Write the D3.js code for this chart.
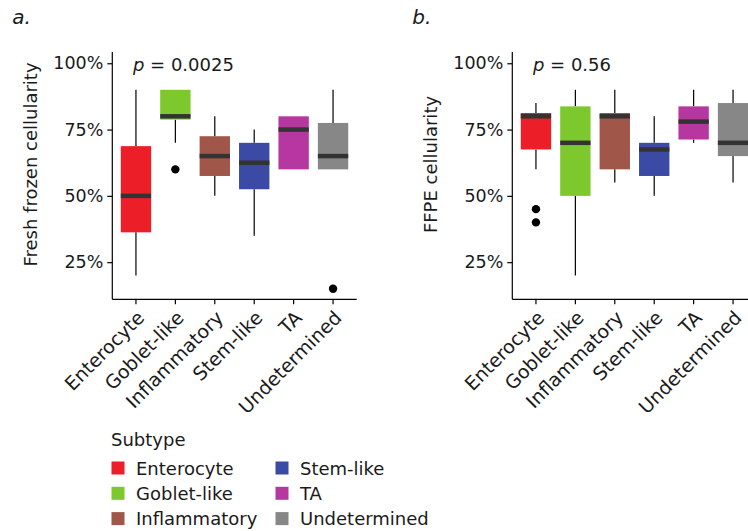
<!DOCTYPE html>
<html>
<head>
<meta charset="utf-8">
<script src="https://cdn.jsdelivr.net/npm/d3@7"></script>
<style>
  html, body { margin: 0; padding: 0; background: #fff; }
  svg { display: block; }
  text { font-family: "DejaVu Sans", sans-serif; fill: #1a1a1a; }
</style>
</head>
<body>
<svg id="chart" width="748" height="531"></svg>
<script>
// Subtypes and their fill colours
const subtypes = ["Enterocyte", "Goblet-like", "Inflammatory", "Stem-like", "TA", "Undetermined"];
const subtypeColors = ["#EC1F28", "#7DC82C", "#A0574A", "#3A4AA5", "#B5379F", "#878787"];

// Fresh frozen cellularity (%) — box summaries per subtype
const ffLowerWhisker = [20, 70, 50, 35, 60, 60];
const ffQ1           = [36.25, 78.75, 57.5, 52.5, 60, 60];
const ffMedian       = [50, 80, 65, 62.5, 75, 65];
const ffQ3           = [68.75, 90, 72.5, 70, 80, 77.5];
const ffUpperWhisker = [90, 90, 80, 75, 80, 90];
const ffOutliers     = [[], [60], [], [], [], [15]];
const ffPLabel = "0.0025";

// FFPE cellularity (%) — box summaries per subtype
const ffpeLowerWhisker = [60, 20, 55, 50, 70, 55];
const ffpeQ1           = [67.5, 50, 60, 57.5, 71.25, 65];
const ffpeMedian       = [80, 70, 80, 67.5, 78, 70];
const ffpeQ3           = [81.25, 83.75, 81.25, 70, 83.75, 85];
const ffpeUpperWhisker = [85, 90, 90, 80, 90, 90];
const ffpeOutliers     = [[45, 40], [], [], [], [], []];
const ffpePLabel = "0.56";

// Y axis ticks
const yTicks = [25, 50, 75, 100];
const yDomain = [11, 104.25];

const svg = d3.select("#chart");

function buildRows(lo, q1, med, q3, hi, out) {
  return subtypes.map((s, i) => ({
    subtype: s, color: subtypeColors[i],
    lo: lo[i], q1: q1[i], med: med[i], q3: q3[i], hi: hi[i], out: out[i]
  }));
}

function drawPanel(opts) {
  const { left, top, bottom, width, rows, tag, yTitle, pLabel } = opts;
  const g = svg.append("g");

  const x = d3.scaleBand().domain(subtypes)
    .range([left, left + width]).paddingInner(0).paddingOuter(0.1);
  const y = d3.scaleLinear().domain(yDomain).range([bottom, top]);
  const bw = x.bandwidth() * 0.77;
  const cx = d => x(d.subtype) + x.bandwidth() / 2;

  // panel tag
  g.append("text").attr("x", left - 100).attr("y", 24)
    .attr("font-size", 20).attr("font-style", "italic").text(tag);

  // y title
  g.append("text")
    .attr("transform", `translate(${left - 82},${164.5}) rotate(-90)`)
    .attr("text-anchor", "middle").attr("dominant-baseline", "central")
    .attr("font-size", 18).text(yTitle);

  // whiskers
  const box = g.selectAll("g.box").data(rows).join("g").attr("class", "box");
  box.append("line")
    .attr("x1", cx).attr("x2", cx)
    .attr("y1", d => y(d.hi)).attr("y2", d => y(d.q3))
    .attr("stroke", "#000").attr("stroke-width", 1.2);
  box.append("line")
    .attr("x1", cx).attr("x2", cx)
    .attr("y1", d => y(d.q1)).attr("y2", d => y(d.lo))
    .attr("stroke", "#000").attr("stroke-width", 1.2);
  // boxes
  box.append("rect")
    .attr("x", d => cx(d) - bw / 2).attr("width", bw)
    .attr("y", d => y(d.q3)).attr("height", d => Math.max(0, y(d.q1) - y(d.q3)))
    .attr("fill", d => d.color);
  // medians
  box.append("line")
    .attr("x1", d => cx(d) - bw / 2).attr("x2", d => cx(d) + bw / 2)
    .attr("y1", d => y(d.med)).attr("y2", d => y(d.med))
    .attr("stroke", "#333333").attr("stroke-width", 4.5);
  // outliers
  box.selectAll("circle").data(d => d.out.map(v => ({ v, d }))).join("circle")
    .attr("cx", o => cx(o.d)).attr("cy", o => y(o.v)).attr("r", 4.2)
    .attr("fill", "#000");

  // axes
  const yAxis = d3.axisLeft(y).tickValues(yTicks).tickFormat(v => v + "%")
    .tickSize(5).tickPadding(4);
  const ya = g.append("g").attr("transform", `translate(${left},0)`).call(yAxis);
  ya.select(".domain").remove();
  ya.append("line").attr("x1", 0).attr("x2", 0).attr("y1", top).attr("y2", bottom)
    .attr("stroke", "#000").attr("stroke-width", 1.2);
  ya.selectAll(".tick line").attr("stroke", "#000").attr("stroke-width", 1.2);
  ya.selectAll(".tick text").attr("font-size", 17.5).attr("fill", "#1a1a1a")
    .attr("font-family", "DejaVu Sans");

  const xAxis = d3.axisBottom(x).tickSize(5).tickPadding(0);
  const xa = g.append("g").attr("transform", `translate(0,${bottom})`).call(xAxis);
  xa.select(".domain").remove();
  xa.append("line").attr("x1", left).attr("x2", left + width).attr("y1", 0).attr("y2", 0)
    .attr("stroke", "#000").attr("stroke-width", 1.2);
  xa.selectAll(".tick line").attr("stroke", "#000").attr("stroke-width", 1.2);
  xa.selectAll(".tick text")
    .attr("font-size", 19).attr("fill", "#1a1a1a").attr("font-family", "DejaVu Sans")
    .attr("text-anchor", "end").attr("dy", null).attr("y", null)
    .attr("transform", "translate(0,10) rotate(-45)")
    .attr("dy", "0.72em");

  // p-value label
  const pt = g.append("text").attr("x", x(subtypes[0]) + x.bandwidth() / 2 - 3)
    .attr("y", y(100) + 1).attr("dominant-baseline", "central").attr("font-size", 18);
  pt.append("tspan").attr("font-style", "italic").text("p");
  pt.append("tspan").text(" = " + pLabel);
}

drawPanel({
  left: 112.3, top: 52, bottom: 299.3, width: 244.4,
  rows: buildRows(ffLowerWhisker, ffQ1, ffMedian, ffQ3, ffUpperWhisker, ffOutliers),
  tag: "a.", yTitle: "Fresh frozen cellularity", pLabel: ffPLabel
});
drawPanel({
  left: 512.3, top: 52, bottom: 299.3, width: 244.4,
  rows: buildRows(ffpeLowerWhisker, ffpeQ1, ffpeMedian, ffpeQ3, ffpeUpperWhisker, ffpeOutliers),
  tag: "b.", yTitle: "FFPE cellularity", pLabel: ffpePLabel
});

// Legend
const legend = svg.append("g");
legend.append("text").attr("x", 111).attr("y", 446).attr("font-size", 18).text("Subtype");
const items = legend.selectAll("g.item").data(subtypes).join("g").attr("class", "item")
  .attr("transform", (d, i) => `translate(${i < 3 ? 111 : 275},${468 + (i % 3) * 25.3})`);
items.append("rect").attr("x", 0.5).attr("y", -6.5).attr("width", 13).attr("height", 13)
  .attr("fill", (d, i) => subtypeColors[i]);
items.append("text").attr("x", 25).attr("y", 0).attr("dominant-baseline", "central")
  .attr("font-size", 18).text(d => d);
</script>
</body>
</html>
